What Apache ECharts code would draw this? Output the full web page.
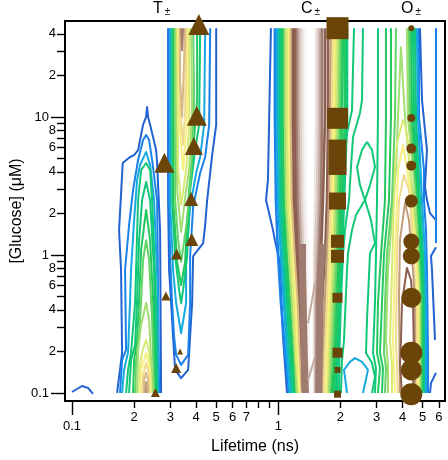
<!DOCTYPE html>
<html><head><meta charset="utf-8">
<style>html,body{margin:0;padding:0;background:#fff}#c{width:448px;height:460px}</style>
<script src="https://cdn.jsdelivr.net/npm/echarts@6/dist/echarts.min.js"></script>
</head><body><div id="c"></div>
<script>
// contour levels: [level, lifetime(ns)[], glucose(uM)[]]
const rowsFlank=[44,10,2.5,1,.449,.195,.1];
const rowsOLeft=[44,10,2.5,1,.449,.195,.152,.1];

const peakT1=[
[0,[.1654,.1749,.1729,.1691,.1762,.1912,.2,.2091,.2211,.2287,.2312,.2338,.2391,.2557,.2586,.2673,.2703],[.1,.195,.778,1.52,4.64,5.13,5.3,5.76,8.8,10,11.8,10,8.8,5.76,4.64,1.52,.1]],
[1,[.171,.1749,.1829,.1808,.1891,.1977,.2091,.2211,.2287,.2365,.2445,.2586,.2644],[.1,.174,.205,.778,1.65,2.96,4.88,6.8,7.4,6.8,4.88,2.5,.1]],
[2,[.1749,.1788,.187,.1912,.1934,.2,.2068,.2138,.2287,.2391,.25,.2614,.2614],[.1,.147,.198,.472,.778,1.79,3.5,4.49,5.58,4.49,2.5,.472,.1]],
[4,[.1829,.187,.1934,.2022,.2045,.2091,.2163,.2287,.2391,.2445,.2557,.2586],[.1,.147,.198,.449,.778,2.5,4.13,4.64,4.13,2.5,.472,.1]],
[4,[.1891,.1934,.2022,.2068,.2115,.2187,.2287,.2391,.25,.2557],[.1,.174,.223,.472,1.28,2.5,3.38,2.5,.778,.1]],
[5,[.1977,.2,.2068,.2115,.2163,.2287,.2391,.2473,.2528],[.1,.174,.242,.472,1.09,2.12,1.28,.472,.1]],
[6,[.2022,.2045,.2115,.2163,.2211,.2287,.2365,.2445,.25],[.1,.174,.263,.472,.92,1.28,.92,.338,.1]],
[7,[.2068,.2091,.2163,.2287,.2365,.2418,.2473],[.1,.205,.311,.449,.338,.174,.1]],
[8,[.2115,.2138,.2187,.2287,.2365,.2418],[.1,.16,.198,.242,.198,.1]],
[9,[.2138,.2163,.2287,.2391,.2391],[.1,.147,.195,.147,.1]],
[10,[.2187,.2211,.2287,.2365,.2365],[.1,.135,.165,.135,.1]],
[11,[.2236,.2236,.2287,.2338,.2338],[.1,.124,.14,.124,.1]],
[12,[.2261,.2287,.2312],[.1,.12,.1]]
];
const peakT2=[
[0,[.5,.5,.478,.452,.4421,.4323,.3865,.3822,.3655,.338,.3161,.3091,.3023,.2956,.2923,.2923],[44,8.8,5.3,2.5,1.65,1.22,.983,.449,.147,.128,.147,.255,.449,.778,2.5,44]],
[1,[.4675,.4623,.4421,.418,.3865,.3738,.3738,.3655,.338,.3197,.3126,.3057,.2989,.2956,.2956],[44,8.8,5.13,3.93,2.23,.983,.449,.189,.16,.189,.255,.449,.983,2.5,44]],
[2,[.4421,.4371,.418,.3997,.3738,.3574,.3574,.338,.3197,.3091,.2989,.2989],[44,8.8,5.13,3.93,2.23,.983,.449,.272,.449,.778,2.5,44]],
[4,[.418,.4133,.3952,.3738,.3614,.3457,.338,.3306,.3161,.3057,.3057],[44,8.8,5.76,2.96,.983,.558,.449,.558,.983,2.5,44]],
[5,[.4042,.4042,.3865,.3696,.3574,.3535,.338,.3233,.3161,.3091,.3091],[44,13.3,5.76,2.96,1.28,.89,.606,.89,1.52,2.5,44]],
[6,[.3865,.3908,.378,.3614,.338,.3269,.3161,.3161],[44,13.3,4.13,1.79,.89,1.28,2.5,44]],
[7,[.378,.3822,.3696,.3574,.338,.3233,.3197,.3197],[44,11.2,4.13,2.96,1.47,2.96,13.3,44]],
[8,[.3696,.3696,.3574,.338,.3269,.3233],[44,8.06,4.13,2.3,4.13,44]],
[9,[.3614,.3614,.3457,.3306,.3269],[44,9.5,4.13,9.5,44]],
[10,[.3574,.3535,.3457,.3343,.3306],[44,11.2,6.27,11.2,44]],
[11,[.3535,.3495,.3418,.3343,.3343],[44,25.9,10,18.5,44]],
[13,[.3457,.3418,.338],[44,30.5,44]]
];
const strayLow=[[0,[.1,.1118,.1196,.1264],[.1017,.1124,.1088,.0985]]];

const peakCLeft=[
[1,[.963,.963,.974,.997,1.03,1.078,1.127]],
[2,[.985,.985,.997,1.03,1.066,1.102,1.14]],
[3,[1.008,1.008,1.019,1.054,1.09,1.127,1.165]],
[4,[1.03,1.03,1.042,1.078,1.114,1.152,1.192]],
[5,[1.054,1.054,1.066,1.102,1.14,1.178,1.219]],
[7,[1.078,1.078,1.09,1.127,1.165,1.205,1.232]],
[8,[1.102,1.102,1.114,1.152,1.192,1.219,1.26]],
[9,[1.127,1.127,1.14,1.178,1.219,1.246,1.274]],
[11,[1.152,1.152,1.165,1.205,1.246,1.274,1.303]],
[14,[1.178,1.178,1.192,1.232,1.274,1.303,1.317]],
[14,[1.205,1.205,1.219,1.26,1.288,1.317,1.332]],
[15,[1.232,1.232,1.246,1.274,1.317,1.332,1.347]],
[16,[1.26,1.26,1.274,1.303,1.332,1.347,1.362]],
[17,[1.288,1.288,1.303,1.332,1.347,1.362,1.377]],
[18,[1.317,1.317,1.332,1.362,1.362,1.377,1.393]],
[19,[1.347,1.362,1.362,1.393,1.393,1.409,1.409]]
];
const peakCRight=[
[18,[1.523,1.523,1.506,1.49,1.49,1.49,1.49]],
[17,[1.558,1.558,1.54,1.506,1.506,1.506,1.506]],
[16,[1.593,1.593,1.575,1.54,1.523,1.523,1.523]],
[15,[1.629,1.629,1.611,1.575,1.54,1.54,1.54]],
[14,[1.684,1.684,1.647,1.611,1.575,1.575,1.558]],
[14,[1.742,1.742,1.722,1.684,1.629,1.611,1.593]],
[12,[1.801,1.781,1.761,1.722,1.684,1.647,1.629]],
[10,[1.841,1.821,1.801,1.761,1.722,1.684,1.666]],
[9,[1.883,1.862,1.841,1.801,1.761,1.722,1.703]],
[8,[1.925,1.904,1.883,1.841,1.801,1.761,1.742]],
[7,[1.969,1.947,1.904,1.883,1.841,1.801,1.761]],
[6,[2.013,1.991,1.947,1.925,1.883,1.841,1.801]],
[5,[2.059,2.036,1.991,1.969,1.925,1.883,1.821]],
[5,[2.105,2.105,2.036,1.991,1.947,1.904,1.862]],
[4,[2.153,2.153,2.082,2.036,1.991,1.947,1.904]]
];
const peakCOuter=[
[0,[.921,.891,.872,.942,.963,1.019,1.054,1.102],[44,3.5,2.5,1.52,1.28,.875,.255,.1]],
[4,[2.328,2.276,2.153,2.082,2.059,2.036,1.991,1.958,1.925,1.925],[44,11.2,7.66,4.34,2.5,1.52,1,.472,.205,.1]],
[4,[2.573,2.545,2.489,2.302,2.251,2.201,2.105,2.059,2.013,1.98,1.969],[44,13.3,10.7,7.16,4.34,2.5,1.52,1,.472,.205,.1]],
[4,[2.691,2.545,2.407,2.489,2.631,2.783,2.942,2.845,2.691],[6.6,5.76,4.34,3.21,2.5,3.21,4.34,5.76,6.6]],
[4,[2.631,2.38,2.276,2.177,2.153,2.082,2.036,2.013],[2.5,1.95,1.52,1.03,.778,.242,.174,.1]],
[4,[2.631,2.814,2.942,2.783,2.691,2.661,2.845,2.942,2.845],[2.5,1.79,1.22,1.03,.338,.195,.165,.131,.1]],
[2,[2.153,2.082,2.226,2.354,2.545,2.721,2.573],[.1,.147,.168,.179,.168,.147,.1]]
];
// steep brown walls of the C peak, lower half
const peakCWalls=[
[[1.31,1.31,1.336,1.354],[1.2,.778,.195,.1]],
[[1.64,1.6,1.58,1.566],[1.2,.778,.195,.1]]
];
const peakCBridges=[
[[1.506,1.393],[.627,.32]],
[[1.506,1.393],[.182,.124]]
];
const peakOLeft=[
[4,[3.042,3.042,3.009,2.975,2.942,2.878,2.975,2.942]],
[5,[3.326,3.326,3.289,3.146,3.042,3.009,3.111,3.042]],
[5,[3.517,3.517,3.44,3.253,3.181,3.111,3.217,3.181]],
[6,[3.719,3.678,3.557,3.363,3.289,3.253,3.326,3.289]]
];
const peakOClosed=[
[7,[3.401,3.401,3.326,3.401,3.517,3.719,3.803,3.932,4.112,4.348,4.546,4.754,4.861,4.861],[.1,.16,.242,.778,1.52,4.13,10,32,10,4.13,2.5,1,.449,.1]],
[8,[3.557,3.557,3.478,3.557,3.678,3.761,4.021,4.112,4.252,4.446,4.701,4.807,4.807],[.1,.16,.242,.778,4.34,6.5,9.5,8.8,6.5,2.5,1,.449,.1]],
[9,[3.678,3.597,3.678,3.803,4.021,4.205,4.396,4.649,4.754,4.754],[.1,.242,1,4.13,6.27,4.34,2.5,1,.449,.1]],
[10,[3.803,3.719,3.761,3.846,4.066,4.3,4.496,4.649,4.701,4.649],[.1,.242,1,2.5,3.8,2.96,1.28,.449,.195,.1]],
[12,[3.889,3.846,3.889,4.112,4.3,4.496,4.597,4.597,4.597],[.1,.472,1.28,2.38,1.79,.778,.449,.195,.1]],
[14,[3.976,3.889,3.932,3.976,4.205,4.396,4.496,4.546,4.496],[.1,.16,.242,.449,.805,.659,.449,.195,.1]]
];
const peakORight=[
[7,[4.205,4.252,4.649,4.807,4.916,4.916,4.916]],
[6,[4.3,4.348,4.701,4.861,4.971,4.971,4.971]],
[5,[4.396,4.446,4.754,4.916,5.027,5.027,5.027]],
[4,[4.496,4.546,4.807,4.971,5.083,5.083,5.083]],
[4,[4.597,4.649,4.861,5.027,5.14,5.14,5.14]],
[2,[4.701,4.754,4.971,5.14,5.198,5.198,5.198]]
];
const peakOOuter=[
[1,[4.807,4.807,5.083,5.083,5.198,5.256,5.315,5.315],[44,10,4.13,2.5,1.52,.778,.2,.1]],
[0,[4.861,4.971,5.256,5.14,5.256,5.435,5.812],[44,13.3,5.76,3.11,2.5,2.01,1.79]],
[0,[5.812,5.496,5.558,5.747],[1.14,.983,.778,.242]],
[1,[5.812,5.812],[44,1.22]],
[0,[5.812,5.496,5.435],[.14,.118,.1]]
];

// fitted components: lifetime, glucose, amplitude
const triLife=[.412,.4028,.3895,.2805,.378,.3806,.3214,.2851,.3343,.3197,.2537];
const triGlucose=[46.8,10.2,6.17,4.66,2.55,1.295,1.017,.504,.2,.152,.1007];
const triAmp=[21,20,18,20,14,13,11,9,6,10,9];
const squareLife=[1.936,1.936,1.936,1.936,1.936,1.936,1.936,1.936,1.936,1.936,1.936];
const squareGlucose=[44,9.78,5.9,4.42,2.46,1.257,.978,.49,.196,.147,.098];
const squareAmp=[22,21,18,18,17,13,13,10,10,6,7];
const circleLife=[4.413,4.413,4.413,4.413,4.413,4.413,4.413,4.413,4.413,4.413,4.413];
const circleGlucose=[44,9.83,5.9,4.44,2.46,1.25,.983,.49,.196,.147,.098];
const circleAmp=[6,8,10,10,13,16,17,20,22,21,22];

const xMajor=[.1,1];
const xMinor=[.2,.3,.4,.5,.6,.7,.8,.9,2,3,4,5,6];
const xMinorLabeled=[.2,.3,.4,.5,.6,.7,2,3,4,5,6];
const yMajor=[.1,1,10];
const yMinor=[.2,.3,.4,.5,.6,.7,.8,.9,2,3,4,5,6,7,8,9,20,30,40];
const yMinorLabeled=[.2,.4,.6,.8,2,4,6,8,20,40];
const peakNames=[['T',153],['C',301],['O',401]];

const palette=['#2262d2','#1a82e8','#16aae0','#10c0a8','#10c878','#22c85e','#62d468','#a2de72','#d8ea74','#f8f080','#eeda90','#d8ba84','#c09e7a','#a87e68','#8e5e50','#a07c70','#c4aca4','#dccdc8','#eee6e3','#f8f5f4'];
const FONT='"Liberation Sans",Arial,sans-serif';
const series=[];
function addLine(level,xs,ys,width){
  series.push({type:'line',silent:true,showSymbol:false,symbol:'none',animation:false,clip:true,
    data:xs.map((x,i)=>[x,ys[i]]),
    lineStyle:{color:palette[level],width:width||2,cap:'butt',join:'round'}});
}
peakT1.concat(peakT2,strayLow,peakCOuter,peakOClosed,peakOOuter).forEach(c=>addLine(c[0],c[1],c[2]));
peakCLeft.concat(peakCRight).forEach(c=>addLine(c[0],c[1],rowsFlank,2.6));
peakORight.forEach(c=>addLine(c[0],c[1],rowsFlank,2.2));
peakOLeft.forEach(c=>addLine(c[0],c[1],rowsOLeft));
peakCWalls.forEach(c=>addLine(15,c[0],c[1],7));
peakCBridges.forEach(c=>addLine(16,c[0],c[1],2));
function addMarks(sym,xs,ys,amps){
  series.push({type:'scatter',symbol:sym,clip:false,silent:true,animation:false,z:5,
    data:xs.map((x,i)=>[x,ys[i],amps[i]]),
    symbolSize:d=>d[2],itemStyle:{color:'#6a4408',opacity:1}});
}
addMarks('triangle',triLife,triGlucose,triAmp);
addMarks('rect',squareLife,squareGlucose,squareAmp);
addMarks('circle',circleLife,circleGlucose,circleAmp);

const digit=v=>String(Math.round(v/Math.pow(10,Math.floor(Math.log10(v)+1e-9))));
const axisText={color:'#000',fontFamily:FONT,fontSize:13};
const xRange={type:'log',logBase:10,min:.09249,max:6.427,splitLine:{show:false},minorTick:{show:false},axisLine:{show:false},position:'bottom'};
const yRange={type:'log',logBase:10,min:.0875,max:49.6,splitLine:{show:false},minorTick:{show:false},axisLine:{show:false},position:'left'};

const chart=echarts.init(document.getElementById('c'),null,{renderer:'canvas'});
chart.setOption({
  animation:false,backgroundColor:'#fff',
  grid:{left:65,top:21,width:380,height:380,show:true,borderColor:'#000',borderWidth:2,backgroundColor:'transparent',outerBoundsMode:'none'},
  xAxis:[
    Object.assign({},xRange,{name:'Lifetime (ns)',nameLocation:'middle',nameGap:38,
      nameTextStyle:{color:'#000',fontFamily:FONT,fontSize:16},
      axisTick:{show:true,length:7,inside:false,customValues:xMinor,lineStyle:{color:'#000',width:1.4}},
      axisLabel:Object.assign({},axisText,{show:true,margin:10,hideOverlap:false,showMinLabel:true,showMaxLabel:true,customValues:xMinorLabeled,formatter:v=>digit(v)})}),
    Object.assign({},xRange,{
      axisTick:{show:true,length:14,inside:false,customValues:xMajor,lineStyle:{color:'#000',width:1.4}},
      axisLabel:Object.assign({},axisText,{show:true,margin:19,customValues:xMajor,formatter:v=>String(v)})})
  ],
  yAxis:[
    Object.assign({},yRange,{name:'[Glucose] (μM)',nameLocation:'middle',nameGap:40,
      nameTextStyle:{color:'#000',fontFamily:FONT,fontSize:16},
      axisTick:{show:true,length:8,inside:false,customValues:yMinor,lineStyle:{color:'#000',width:1.4}},
      axisLabel:Object.assign({},axisText,{show:true,margin:9,hideOverlap:false,customValues:yMinorLabeled,formatter:v=>digit(v)})}),
    Object.assign({},yRange,{
      axisTick:{show:true,length:14,inside:false,customValues:yMajor,lineStyle:{color:'#000',width:1.4}},
      axisLabel:Object.assign({},axisText,{show:true,margin:16,customValues:yMajor,formatter:v=>String(v)})})
  ],
  graphic:peakNames.map(p=>({type:'text',left:p[1],top:1,silent:true,style:{
    text:'{a|'+p[0]+'}{b|±}',
    rich:{a:{fontFamily:FONT,fontSize:16,fill:'#000',color:'#000',padding:[0,2,0,0]},b:{fontFamily:FONT,fontSize:10,fill:'#000',color:'#000',verticalAlign:'bottom'}}}})),
  series:series
});
</script>
</body></html>
